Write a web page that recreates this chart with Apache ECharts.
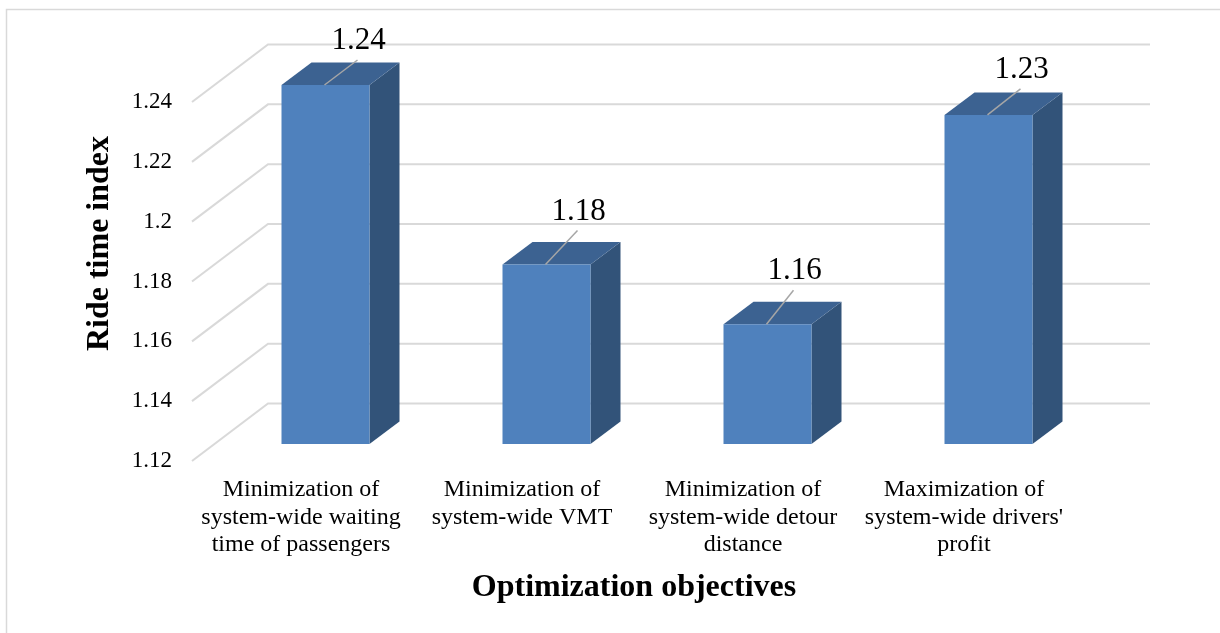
<!DOCTYPE html>
<html>
<head>
<meta charset="utf-8">
<style>
html, body { margin: 0; padding: 0; background: #fff; }
#chart { width: 1220px; height: 633px; }
</style>
<script src="https://cdn.jsdelivr.net/npm/echarts@6/dist/echarts.min.js"></script>
</head>
<body>
<div id="chart"></div>
<script>
var categories = [
	'Minimization of\nsystem-wide waiting\ntime of passengers',
	'Minimization of\nsystem-wide VMT',
	'Minimization of\nsystem-wide detour\ndistance',
	'Maximization of\nsystem-wide drivers\'\nprofit'
];
var rideTimeIndex = [1.24, 1.18, 1.16, 1.23];
var yTicks = [1.12, 1.14, 1.16, 1.18, 1.2, 1.22, 1.24];

var serif = '"Liberation Serif", "Times New Roman", serif';

// fake 3d: how far the back wall and the bars sit behind the axis plane
var wallDx = 76, wallDy = -57.5;
var barDx = 23, barDy = -17;
var sideDx = 30, sideDy = -22.5;
var barWidth = 88;

// leader line end for each label, relative to the middle of the bar top
var leaders = [[33, -25], [32, -34], [27, -34], [33, -26]];

function renderWall(params, api) {
	var p = api.coord([0, api.value(0)]);
	var left = params.coordSys.x;
	var start = [left, p[1]];
	var corner = [left + wallDx, p[1] + wallDy];
	var end = [1150, p[1] + wallDy];
	return {
		type: 'polyline',
		shape: { points: [start, corner, end] },
		style: { stroke: '#d9d9d9', lineWidth: 2, fill: null }
	};
}

function renderBar(params, api) {
	var i = api.value(0);
	var v = api.value(1);
	var top = api.coord([i, v]);
	var base = api.coord([i, yTicks[0]]);
	var x0 = top[0] + barDx - barWidth / 2;
	var x1 = x0 + barWidth;
	var y0 = top[1] + barDy;
	var y1 = base[1] + barDy;
	var mid = x0 + barWidth / 2 - 1;
	var tipX = mid + leaders[i][0];
	var tipY = y0 + leaders[i][1];
	return {
		type: 'group',
		children: [{
			type: 'polygon',
			shape: { points: [[x1, y0], [x1 + sideDx, y0 + sideDy], [x1 + sideDx, y1 + sideDy], [x1, y1]] },
			style: { fill: '#325379' }
		}, {
			type: 'polygon',
			shape: { points: [[x0, y0], [x0 + sideDx, y0 + sideDy], [x1 + sideDx, y0 + sideDy], [x1, y0]] },
			style: { fill: '#3c6291' }
		}, {
			type: 'rect',
			shape: { x: x0, y: y0, width: barWidth, height: y1 - y0 },
			style: { fill: '#4f81bd' }
		}, {
			type: 'line',
			shape: { x1: mid, y1: y0, x2: tipX, y2: tipY },
			style: { stroke: '#a6a6a6', lineWidth: 1.5 }
		}, {
			type: 'text',
			x: tipX + 1,
			y: tipY - 19,
			style: {
				text: String(v),
				font: '31px ' + serif,
				fill: '#000',
				align: 'center',
				verticalAlign: 'middle'
			}
		}]
	};
}

var chart = echarts.init(document.getElementById('chart'));
chart.setOption({
	backgroundColor: '#fff',
	animation: false,
	graphic: [{
		type: 'polyline',
		shape: { points: [[6.5, 633], [6.5, 9.5], [1220, 9.5]] },
		style: { stroke: '#d9d9d9', lineWidth: 1.5, fill: null },
		silent: true
	}],
	grid: { left: 192, top: 102, width: 884, height: 359 },
	xAxis: {
		type: 'category',
		data: categories,
		axisLine: { show: false },
		axisTick: { show: false },
		axisLabel: {
			color: '#000',
			fontFamily: serif,
			fontSize: 24,
			lineHeight: 27.5,
			margin: 15,
			padding: [0, 3, 0, 0],
			interval: 0
		},
		name: 'Optimization objectives',
		nameLocation: 'middle',
		nameGap: 111,
		nameTextStyle: { color: '#000', fontFamily: serif, fontSize: 32, fontWeight: 'bold' }
	},
	yAxis: {
		type: 'value',
		min: 1.12,
		max: 1.24,
		interval: 0.02,
		axisLine: { show: false },
		axisTick: { show: false },
		splitLine: { show: false },
		axisLabel: { color: '#000', fontFamily: serif, fontSize: 23, margin: 20 },
		name: 'Ride time index',
		nameLocation: 'middle',
		nameGap: 76,
		nameTextStyle: { color: '#000', fontFamily: serif, fontSize: 32, fontWeight: 'bold', padding: [0, 0, 0, 76] }
	},
	series: [{
		type: 'custom',
		name: 'wall',
		renderItem: renderWall,
		encode: { y: 0 },
		data: yTicks.map(function(t) { return [t]; }),
		silent: true,
		z: 1
	}, {
		type: 'custom',
		name: 'Ride time index',
		renderItem: renderBar,
		encode: { x: 0, y: 1 },
		data: rideTimeIndex.map(function(v, i) { return [i, v]; }),
		z: 2
	}]
});
</script>
</body>
</html>
